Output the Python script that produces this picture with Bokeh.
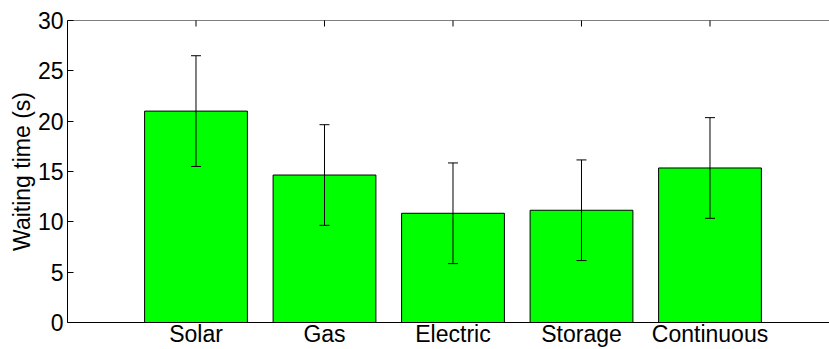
import math

from bokeh.plotting import figure
from bokeh.models import (ColumnDataSource, Range1d, FixedTicker, Whisker,
                          TeeHead, Span)
from bokeh.embed import file_html
from bokeh.resources import INLINE

# Mean waiting time per heater type, with the spread shown as error bars
categories = ["Solar", "Gas", "Electric", "Storage", "Continuous"]
waiting_time = [21.0, 14.65, 10.85, 11.15, 15.35]
spread = [5.5, 5.0, 5.0, 5.0, 5.0]
y_ticks = [0, 5, 10, 15, 20, 25, 30]

Y_MIN, Y_MAX = y_ticks[0], y_ticks[-1]
xs = list(range(1, len(categories) + 1))
src = ColumnDataSource(dict(
    x=xs,
    edge=[Y_MAX] * len(xs),
    top=waiting_time,
    upper=[m + s for m, s in zip(waiting_time, spread)],
    lower=[m - s for m, s in zip(waiting_time, spread)],
))

FONT = "Liberation Sans"
FS = "23px"

p = figure(width=829, height=349, output_backend="svg", toolbar_location=None,
           x_range=Range1d(0, 5.93), y_range=Range1d(Y_MIN, Y_MAX),
           min_border_left=67, min_border_right=0, min_border_top=20,
           min_border_bottom=0)
p.outline_line_color = None
p.xgrid.visible = False
p.ygrid.visible = False
p.background_fill_color = "white"
p.border_fill_color = "white"

p.vbar(x="x", top="top", width=0.8, bottom=Y_MIN, source=src,
       fill_color="#00FF00", line_color="black", line_width=1)

p.add_layout(Whisker(base="x", upper="upper", lower="lower", source=src,
                     level="overlay", line_color="black", line_width=1,
                     upper_head=TeeHead(size=10, line_color="black", line_width=1),
                     lower_head=TeeHead(size=10, line_color="black", line_width=1)))

# Top edge of the box, with inward ticks at each category
p.add_layout(Span(location=Y_MAX, dimension="width", line_color="black", line_width=1))
p.scatter(x="x", y="edge", source=src, marker="dash", size=12, angle=math.pi / 2,
          line_color="black", line_width=1)

# Bottom axis with category names
xa = p.xaxis[0]
xa.ticker = FixedTicker(ticks=xs)
xa.major_label_overrides = {x: c for x, c in zip(xs, categories)}
xa.minor_tick_line_color = None
xa.major_tick_in = 0
xa.major_tick_out = 0
xa.major_label_standoff = -2
xa.major_label_text_font = FONT
xa.major_label_text_font_size = FS
xa.major_label_text_color = "black"
xa.axis_line_color = "black"

# Left axis
ya = p.yaxis[0]
ya.ticker = FixedTicker(ticks=y_ticks)
ya.minor_tick_line_color = None
ya.major_tick_in = 6
ya.major_tick_out = 0
ya.major_label_standoff = 4
ya.major_label_text_font = FONT
ya.major_label_text_font_size = FS
ya.major_label_text_color = "black"
ya.axis_line_color = "black"
ya.major_tick_line_color = "black"
ya.axis_label = "Waiting time (s)"
ya.axis_label_text_font = FONT
ya.axis_label_text_font_size = FS
ya.axis_label_text_font_style = "normal"
ya.axis_label_text_color = "black"
ya.axis_label_standoff = 0

open("out.html", "w").write(file_html(p, INLINE))
